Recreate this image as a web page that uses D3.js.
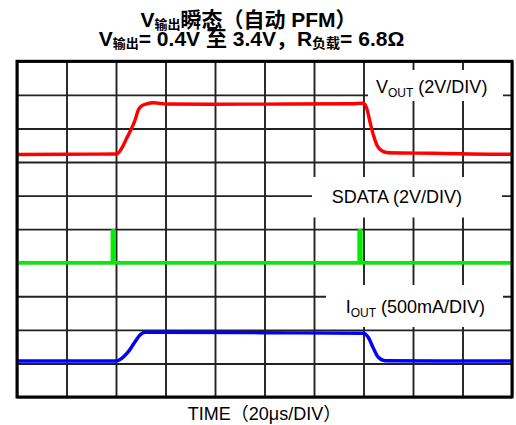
<!DOCTYPE html>
<html><head><meta charset="utf-8">
<script src="https://cdn.jsdelivr.net/npm/d3@7/dist/d3.min.js"></script>
<style>
html,body{margin:0;padding:0;background:#fff;}
svg{display:block;}
text{font-family:"Liberation Sans",Arial,"Noto Sans CJK SC",sans-serif;fill:#000;}
</style></head>
<body>
<svg id="c" width="516" height="425"></svg>
<script>
// Time axis: 20 µs/div, 10 divisions
const timeDomain = [0, 200];
const divisions = d3.range(0, 11);

// VOUT trace (V), 2 V/div, ground at division 7
const voutT = [0, 20, 40.3, 42.3, 44.3, 46.3, 47.7, 49.0, 50.4, 52.4, 55.1, 60.5, 78.0, 100, 135, 139.9, 141.3, 142.6, 144.0, 145.6, 147.4, 150.0, 168.1, 199.2, 200];
const voutV = [0.45, 0.46, 0.48, 0.82, 1.41, 2.01, 2.50, 3.10, 3.35, 3.47, 3.53, 3.46, 3.44, 3.45, 3.47, 3.50, 3.20, 2.40, 1.61, 0.95, 0.67, 0.55, 0.52, 0.46, 0.46];

// SDATA trace (V), 2 V/div, ground at division 4
const sdataT = [0, 38.5, 38.5, 39.3, 39.3, 138.2, 138.2, 139.0, 139.0, 200];
const sdataV = [0, 0, 1.91, 1.91, 0, 0, 1.91, 1.91, 0, 0];

// IOUT trace (mA), 500 mA/div, zero at division 1
const ioutT = [0, 20, 40.3, 42.3, 45.0, 47.7, 49.7, 51.7, 57.8, 98.2, 139.9, 141.9, 144.0, 146.0, 148.7, 170, 199.2, 200];
const ioutMA = [36, 36, 36, 76, 175, 324, 423, 464, 464, 458, 449, 389, 225, 91, 41, 37, 36, 36];

const L = 17, R = 512, T = 61.3, B = 397;
const svg = d3.select("#c");

const x = d3.scaleLinear().domain(timeDomain).range([L, R]);
const xd = d3.scaleLinear().domain([0, 10]).range([L, R]);
const y = d3.scaleLinear().domain([0, 10]).range([B, T]);

// grid
const grid = svg.append("g");
grid.append("g").attr("transform", `translate(0,${B})`)
  .call(d3.axisBottom(xd).tickValues(divisions).tickSize(-(B - T)).tickFormat(""))
  .call(g => g.select(".domain").remove())
  .call(g => g.selectAll("line").attr("stroke", "#222").attr("stroke-width", 1.9));
grid.append("g").attr("transform", `translate(${L},0)`)
  .call(d3.axisLeft(y).tickValues(divisions).tickSize(-(R - L)).tickFormat(""))
  .call(g => g.select(".domain").remove())
  .call(g => g.selectAll("line").attr("stroke", "#222").attr("stroke-width", 1.9));

// label backgrounds
const boxes = [[368, 70, 503, 101], [312, 177, 502, 217.5], [326, 285, 503, 327]];
svg.append("g").selectAll("rect").data(boxes).join("rect")
  .attr("x", d => d[0]).attr("y", d => d[1])
  .attr("width", d => d[2] - d[0]).attr("height", d => d[3] - d[1])
  .attr("fill", "#fff");

// traces
function drawTrace(ts, vs, toDiv, color, curve) {
  const pts = ts.map((t, i) => [x(t), y(toDiv(vs[i]))]);
  svg.append("path").attr("d", d3.line().curve(curve)(pts))
    .attr("fill", "none").attr("stroke", color).attr("stroke-width", 3.4)
    .attr("stroke-linejoin", "round");
}
drawTrace(voutT, voutV, v => 7 + v / 2, "#ff0000", d3.curveMonotoneX);
drawTrace(sdataT, sdataV, v => 4 + v / 2, "#00ee00", d3.curveLinear);
drawTrace(ioutT, ioutMA, v => 1 + v / 500, "#0000ff", d3.curveMonotoneX);

// frame
svg.append("rect").attr("x", L).attr("y", T).attr("width", R - L).attr("height", B - T)
  .attr("fill", "none").attr("stroke", "#000").attr("stroke-width", 3);

// trace labels
function label(xp, yp, main, sub, rest) {
  const t = svg.append("text").attr("x", xp).attr("y", yp).attr("font-size", 18);
  t.append("tspan").text(main);
  if (sub) t.append("tspan").attr("font-size", 12).attr("dy", 4).text(sub);
  t.append("tspan").attr("dy", sub ? -4 : 0).text(rest);
}
label(376, 93.3, "V", "OUT", " (2V/DIV)");
label(331.7, 203.3, "SDATA (2V/DIV)", null, "");
label(345.7, 313, "I", "OUT", " (500mA/DIV)");

// title
const t1 = svg.append("text").attr("x", 248.5).attr("y", 27).attr("text-anchor", "middle")
  .attr("font-size", 21).attr("font-weight", "bold");
t1.append("tspan").text("V");
t1.append("tspan").attr("font-size", 13).attr("dy", 2).text("输出");
t1.append("tspan").attr("dy", -2).text("瞬态（自动 PFM）");

const t2 = svg.append("text").attr("x", 251.5).attr("y", 45.5).attr("text-anchor", "middle")
  .attr("font-size", 21).attr("font-weight", "bold");
t2.append("tspan").text("V");
t2.append("tspan").attr("font-size", 13).attr("dy", 2).text("输出");
t2.append("tspan").attr("dy", -2).text("= 0.4V 至 3.4V，R");
t2.append("tspan").attr("font-size", 14).attr("dy", 2).text("负载");
t2.append("tspan").attr("dy", -2).text("= 6.8Ω");

// x label
svg.append("text").attr("x", 264.5).attr("y", 420).attr("text-anchor", "middle")
  .attr("font-size", 18).text("TIME（20μs/DIV）");
</script>
</body></html>
